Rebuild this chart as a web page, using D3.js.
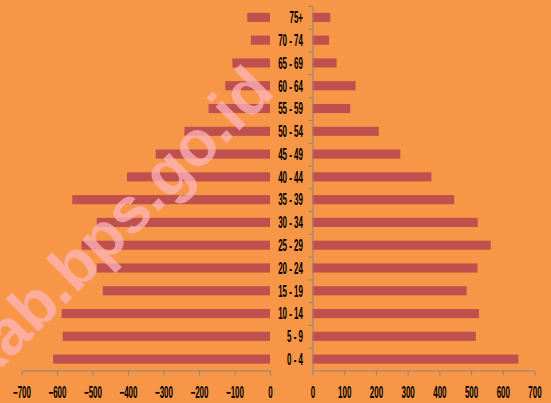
<!DOCTYPE html>
<html>
<head>
<meta charset="utf-8">
<script src="https://cdn.jsdelivr.net/npm/d3@7"></script>
<style>
  body { margin: 0; background: #F79646; }
  svg { display: block; }
  .axis path, .axis line { stroke: #868686; stroke-width: 1; }
  text { font-family: "Liberation Sans", Arial, sans-serif; font-weight: bold; font-size: 16px; fill: #000; }
</style>
</head>
<body>
<svg id="chart" width="551" height="403"></svg>
<script>
const ageGroups = ['0 - 4', '5 - 9', '10 - 14', '15 - 19', '20 - 24', '25 - 29', '30 - 34', '35 - 39',
  '40 - 44', '45 - 49', '50 - 54', '55 - 59', '60 - 64', '65 - 69', '70 - 74', '75+'];
const leftValues = [611, 584, 587, 471, 488, 531, 488, 557, 403, 322, 241, 173, 126, 106, 54, 64];
const rightValues = [649, 515, 525, 486, 520, 562, 521, 447, 375, 277, 209, 119, 136, 76, 52, 56];
const leftTicks = [-700, -600, -500, -400, -300, -200, -100, 0];
const rightTicks = [0, 100, 200, 300, 400, 500, 600, 700];

const svg = d3.select('#chart');
const plotTop = 6, plotBottom = 370.5;

const y = d3.scaleBand()
  .domain(ageGroups.slice().reverse())
  .range([plotTop, plotBottom])
  .paddingInner(0.6)
  .paddingOuter(0.3);

const xL = d3.scaleLinear().domain([-700, 0]).range([21.5, 270]);
const xR = d3.scaleLinear().domain([0, 700]).range([312.5, 534.5]);

// bars
svg.append('g').selectAll('rect')
  .data(ageGroups)
  .join('rect')
  .attr('x', (d, i) => xL(-leftValues[i]))
  .attr('y', d => y(d))
  .attr('width', (d, i) => xL(0) - xL(-leftValues[i]))
  .attr('height', y.bandwidth())
  .attr('fill', '#C0504D');

svg.append('g').selectAll('rect')
  .data(ageGroups)
  .join('rect')
  .attr('x', xR(0))
  .attr('y', d => y(d))
  .attr('width', (d, i) => xR(rightValues[i]) - xR(0))
  .attr('height', y.bandwidth())
  .attr('fill', '#C0504D');

// bottom axes
function squish(g) {
  g.selectAll('text')
    .attr('transform', 'scale(0.5,1)')
    .attr('y', 16)
    .style('font-size', '16px')
    .style('font-family', '"Liberation Sans", Arial, sans-serif');
}

svg.append('g')
  .attr('class', 'axis')
  .attr('transform', `translate(0,${plotBottom})`)
  .call(d3.axisBottom(xL).tickValues(leftTicks).tickSize(5).tickSizeOuter(0).tickFormat(d3.format('d')))
  .call(squish);

svg.append('g')
  .attr('class', 'axis')
  .attr('transform', `translate(0,${plotBottom})`)
  .call(d3.axisBottom(xR).tickValues(rightTicks).tickSize(5).tickSizeOuter(0).tickFormat(d3.format('d')))
  .call(squish);

// vertical axis with ticks between categories
const yEdge = d3.scaleLinear().domain([0, ageGroups.length]).range([plotBottom, plotTop]);
svg.append('g')
  .attr('class', 'axis')
  .attr('transform', `translate(${xR(0)},0)`)
  .call(d3.axisLeft(yEdge).tickValues(d3.range(1, ageGroups.length + 1)).tickSize(4).tickSizeOuter(0).tickFormat(''));

// category labels
svg.append('g').selectAll('text')
  .data(ageGroups)
  .join('text')
  .attr('transform', d => `translate(303,${y(d) + y.bandwidth() / 2}) scale(0.5,1)`)
  .attr('text-anchor', 'end')
  .attr('dy', '0.36em')
  .text(d => d);

// watermark
svg.append('text')
  .attr('transform', 'translate(276.5,93.5) rotate(-45)')
  .attr('text-anchor', 'end')
  .style('font-size', '64px')
  .style('fill', 'rgb(255,182,193)')
  .style('opacity', 0.72)
  .text('kab.bps.go.id');
</script>
</body>
</html>
